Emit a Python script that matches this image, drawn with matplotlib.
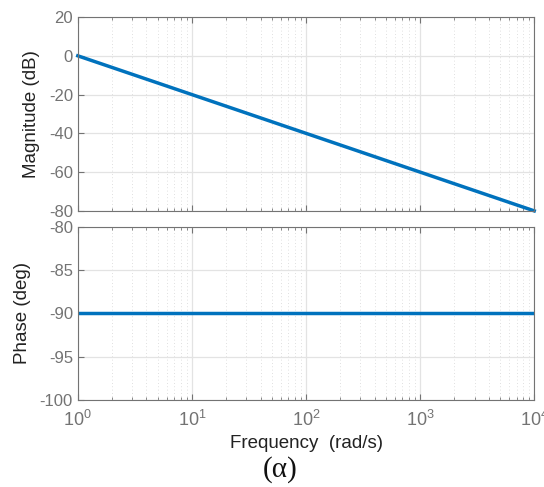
# required libraries
import numpy as np
import matplotlib
matplotlib.use("Agg")
import matplotlib.pyplot as plt
from matplotlib.ticker import LogLocator, NullFormatter

freq = [1, 10, 100, 1000, 10000]
magnitude_db = [0, -20, -40, -60, -80]
phase_deg = [-90, -90, -90, -90, -90]

mag_ticks = [20, 0, -20, -40, -60, -80]
phase_ticks = [-80, -85, -90, -95, -100]

plt.rcParams["font.family"] = ["Liberation Sans", "DejaVu Sans"]

line_color = "#0072BD"
tick_color = "#737373"

fig = plt.figure(figsize=(5.44, 4.87), dpi=100)
ax_mag = fig.add_axes([0.143, 0.567, 0.839, 0.398])
ax_ph = fig.add_axes([0.143, 0.179, 0.839, 0.355])


def style_axis(ax):
    ax.set_xscale("log")
    ax.set_xlim(1, 1e4)
    ax.xaxis.set_major_locator(LogLocator(base=10, numticks=10))
    ax.xaxis.set_minor_locator(LogLocator(base=10, subs=np.arange(2, 10), numticks=10))
    ax.xaxis.set_minor_formatter(NullFormatter())
    ax.grid(True, which="major", color="#e3e3e3", linewidth=0.9)
    ax.grid(True, which="minor", axis="x", color="#d5d5d5", linewidth=0.6, linestyle=(0, (1, 3)))
    ax.tick_params(which="both", direction="in", top=True, right=False,
                   colors=tick_color, labelsize=12)
    ax.tick_params(which="major", length=4)
    ax.tick_params(which="minor", length=2.5)
    for sp in ax.spines.values():
        sp.set_color(tick_color)
        sp.set_linewidth(0.8)
    ax.set_axisbelow(True)


# magnitude plot
style_axis(ax_mag)
ax_mag.plot(freq, magnitude_db, color=line_color, linewidth=2.5, clip_on=False)
ax_mag.set_ylim(-80, 20)
ax_mag.set_yticks(mag_ticks)
ax_mag.set_yticklabels([str(t) for t in mag_ticks])
ax_mag.tick_params(axis="x", labelbottom=False)
ax_mag.set_ylabel("Magnitude (dB)", fontsize=13.5, color="#222222", labelpad=6)

# phase plot
style_axis(ax_ph)
ax_ph.plot(freq, phase_deg, color=line_color, linewidth=2.5)
ax_ph.set_ylim(-100, -80)
ax_ph.set_yticks(phase_ticks)
ax_ph.set_yticklabels([str(t) for t in phase_ticks])
ax_ph.set_ylabel("Phase (deg)", fontsize=13.5, color="#222222", labelpad=6)
ax_ph.set_xlabel("Frequency  (rad/s)", fontsize=13.5, color="#222222", labelpad=4)
ax_ph.tick_params(axis="x", labelsize=13, pad=7)

# caption under the chart
fig.text(0.515, 0.035, "(α)", fontsize=21, family=["Liberation Serif", "DejaVu Serif"],
         ha="center", va="center", color="#111111")

fig.savefig("out.png", dpi=100)
